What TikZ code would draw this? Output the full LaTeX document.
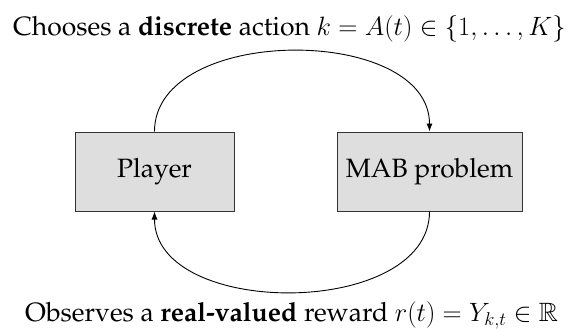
\RequirePackage{fix-cm}
\documentclass[tikz,border=0pt]{standalone}
\usepackage[T1]{fontenc}
\renewcommand{\rmdefault}{ppl}
\usepackage{amssymb}
\usetikzlibrary{arrows.meta}
\tikzset{
  box/.style={draw=black!80, line width=1pt, fill=black!13, minimum height=79pt, inner sep=0pt, font=\fontsize{26.5}{32}\selectfont},
  lbl/.style={inner sep=0pt, anchor=base west, font=\fontsize{26.5}{32}\selectfont},
  arc/.style={draw=black, line width=0.9pt, -{Latex[length=8pt,width=6pt]}}
}
\begin{document}
\begin{tikzpicture}[x=1pt,y=1pt]
\useasboundingbox (0,0) rectangle (570,-329);
\node[box, minimum width=159pt] (P) at (154.5,-171.5) {Player};
\node[box, minimum width=185pt] (M) at (429.5,-171.5) {MAB problem};
\node[lbl] (top) at (13,-36) {Chooses a \textbf{discrete} action $k = A(t) \in \{1,\ldots,K\}$};
\node[lbl] (bot) at (25,-321.7) {Observes a \textbf{real-valued} reward $r(t) = Y_{k,t} \in \mathbb{R}$};
\draw[arc] (P.north) to[out=90,in=90] (M.north);
\draw[arc] (M.south) to[out=-90,in=-90] (P.south);
\end{tikzpicture}
\end{document}
